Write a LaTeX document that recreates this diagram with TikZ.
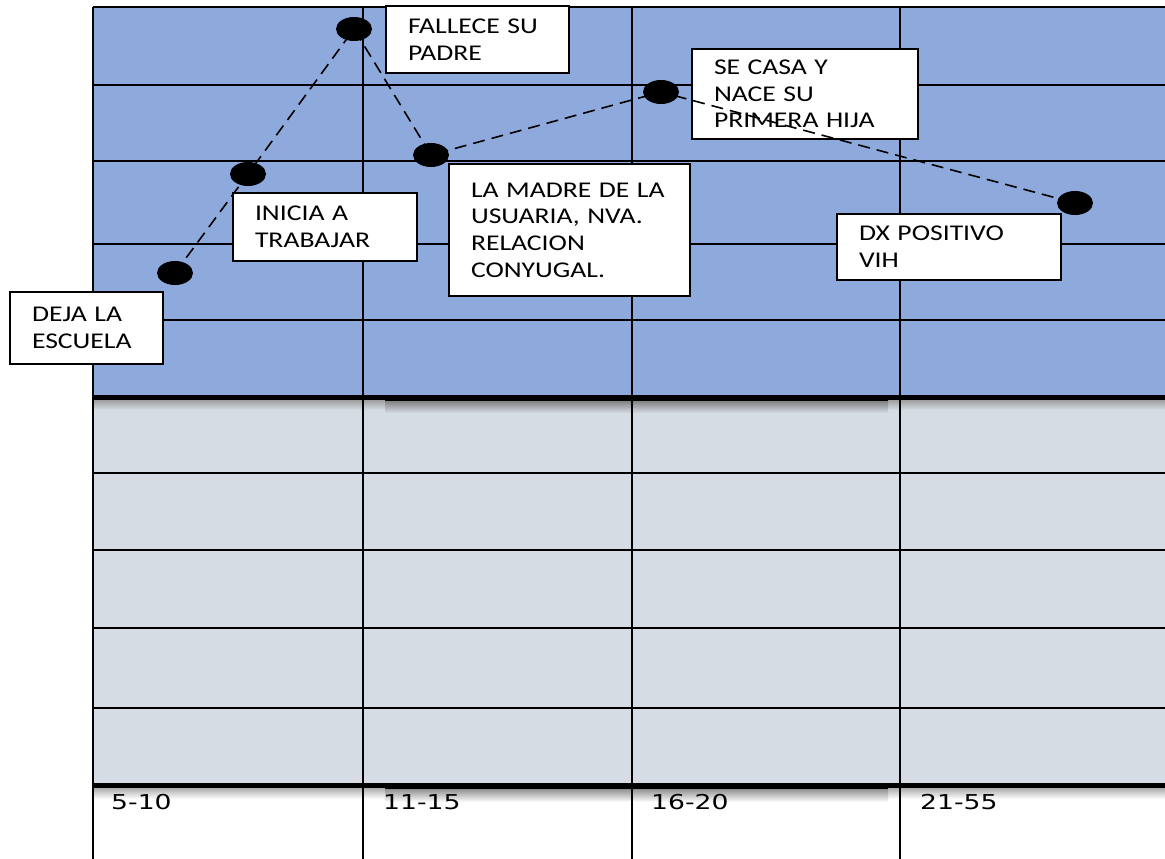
\documentclass[tikz,border=0pt]{standalone}
\usepackage{fontspec}
\usetikzlibrary{shapes.geometric}
\newfontfamily\evtfont[FakeStretch=1.23]{Carlito}
\newfontfamily\agefont[FakeStretch=1.3]{DejaVu Sans}
\definecolor{stageblue}{HTML}{8EA9DB}
\definecolor{stagegray}{HTML}{D6DCE4}
\tikzset{
  gridline/.style={line width=1.6pt, black},
  rulebar/.style={line width=5pt, black},
  evtbox/.style={draw=black, fill=white, line width=1.5pt,
    font=\evtfont\fontsize{22.5pt}{26.7pt}\selectfont,
    align=left, inner xsep=22pt, inner ysep=0pt},
  milestone/.style={ellipse, fill=black, minimum width=36pt, minimum height=24pt, inner sep=0pt},
  trend/.style={line width=1.6pt, black, dash pattern=on 12pt off 7pt},
  agelabel/.style={font=\agefont\fontsize{20.5pt}{24pt}\selectfont, anchor=base west, inner sep=0pt},
}
\begin{document}
\begin{tikzpicture}[x=1pt,y=-1pt]
\useasboundingbox (0,0) rectangle (1165,859);

% background bands of the life chart
\fill[stageblue] (93,7) rectangle (1165,398);
\fill[stagegray] (93,398) rectangle (1165,786);

% soft shadows under the two heavy rules
\shade[top color=black!40, bottom color=stagegray] (93,399) rectangle (1165,410);
\shade[top color=black!55, bottom color=stagegray] (385,399) rectangle (888,413);
\shade[top color=black!35, bottom color=white] (93,787) rectangle (1165,799);
\shade[top color=black!50, bottom color=white] (385,787) rectangle (888,802);

% grid
\foreach \y in {7,85,161,244,320,473,550,628,708}
  \draw[gridline] (93,\y) -- (1165,\y);
\foreach \x in {93,363,632,900}
  \draw[gridline] (\x,7) -- (\x,859);
\draw[rulebar] (93,397) -- (1165,397);
\draw[rulebar] (93,785.5) -- (1165,785.5);
\draw[line width=6pt] (385,397.5) -- (888,397.5);
\draw[line width=6pt] (385,786) -- (888,786);

% event labels
\node[evtbox, text width=109pt, minimum height=72pt] (deja) at (86.5,328) {DEJA LA\\ESCUELA};
\node[evtbox, text width=140pt, minimum height=68pt] (inicia) at (325,227) {INICIA A\\TRABAJAR};
\node[evtbox, text width=139pt, minimum height=67pt] (fallece) at (477.5,39.5) {FALLECE SU\\PADRE};
\node[evtbox, text width=197pt, minimum height=132pt] (madre) at (569.5,230) {LA MADRE DE LA\\USUARIA, NVA.\\RELACION\\CONYUGAL.};
\node[evtbox, text width=182pt, minimum height=90pt] (casa) at (805,94) {SE CASA Y\\NACE SU\\PRIMERA HIJA};
\node[evtbox, text width=180pt, minimum height=66pt] (dx) at (949,247) {DX POSITIVO\\VIH};

% milestones
\node[milestone] (m1) at (175,273) {};
\node[milestone] (m2) at (248,174) {};
\node[milestone] (m3) at (354,29) {};
\node[milestone] (m4) at (431,155) {};
\node[milestone] (m5) at (661,92) {};
\node[milestone] (m6) at (1075,203) {};
\draw[trend] (m1.center) -- (m2.center) -- (m3.center) -- (m4.center) -- (m5.center) -- (m6.center);

% age ranges
\node[agelabel] (a1) at (111,809) {5-10};
\node[agelabel] (a2) at (383,809) {11-15};
\node[agelabel] (a3) at (651,809) {16-20};
\node[agelabel] (a4) at (920,809) {21-55};
\end{tikzpicture}
\end{document}
